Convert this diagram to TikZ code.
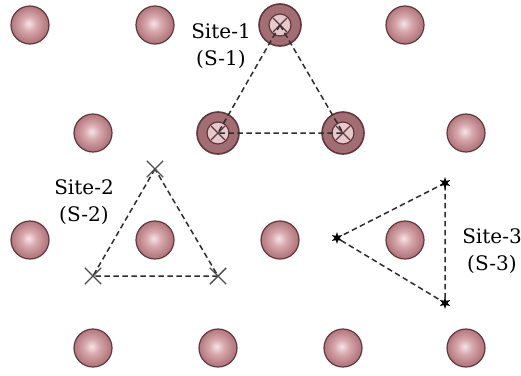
\documentclass[tikz,border=0pt]{standalone}
\usepackage{fontspec}
\setmainfont{DejaVu Serif}
\usetikzlibrary{shapes.misc, shapes.geometric}

\definecolor{atomhi}{RGB}{245,228,230}
\definecolor{atompink}{RGB}{215,168,173}
\definecolor{atomrim}{RGB}{180,122,128}
\definecolor{atomedge}{RGB}{95,55,60}
\definecolor{bondgray}{RGB}{45,45,45}

% soft pink ball, highlight a bit up-left
\pgfdeclareradialshading{atomball}{\pgfpoint{-2bp}{2bp}}{%
  color(0bp)=(atomhi); color(10bp)=(atompink); color(23bp)=(atomrim);
  color(25bp)=(atomrim); color(50bp)=(atomrim)}

\begin{document}
\begin{tikzpicture}[x=1pt, y=-1pt,
    atom/.style={circle, minimum size=38pt, inner sep=0pt,
                 draw=atomedge, line width=1.2pt, shading=atomball},
    siteatom/.style={circle, minimum size=42pt, inner sep=0pt,
                 draw=atomedge, line width=1.6pt, fill=atomrim!90!black,
                 path picture={
                   \draw[atomedge, line width=1.2pt, fill=atomhi!55!atompink]
                     (path picture bounding box.center) circle (11pt);
                   \draw[atomedge, line width=1.2pt]
                     (path picture bounding box.center) ++(-7pt,-7pt) -- ++(14pt,14pt);
                   \draw[atomedge, line width=1.2pt]
                     (path picture bounding box.center) ++(-7pt,7pt) -- ++(14pt,-14pt);
                 }},
    bond/.style={draw=bondgray, line width=1.5pt, dash pattern=on 5.5pt off 3.5pt},
    xmark/.style={cross out, draw=gray!60!black, line width=1.4pt,
                  minimum size=15pt, inner sep=0pt},
    smark/.style={star, star points=6, star point ratio=2.4, fill=black,
                  minimum size=12pt, inner sep=0pt},
    lbl/.style={align=center, font=\fontsize{20}{27}\selectfont}]

  \useasboundingbox (0,0) rectangle (521,375);

  % plain atoms of the lattice
  \foreach \x/\y/\n in {30/25/a1, 155/25/a2, 405/25/a4,
                        93/133/b1, 466/133/b4,
                        30/240/c1, 155/240/c2, 280/240/c3, 405/240/c4,
                        93/348/d1, 218/348/d2, 343/348/d3, 466/348/d4}
    \node[atom] (\n) at (\x,\y) {};

  % Site-1 : on top of atoms
  \node[siteatom] (a3) at (280,25) {};
  \node[siteatom] (b2) at (218,133) {};
  \node[siteatom] (b3) at (343,133) {};
  \draw[bond] (a3.center) -- (b2.center) -- (b3.center) -- cycle;

  % Site-2 : hollow sites round c2
  \coordinate (h1) at (155,169);
  \coordinate (h2) at (93,276);
  \coordinate (h3) at (218,276);
  \draw[bond] (h1) -- (h2) -- (h3) -- cycle;
  \foreach \h in {h1, h2, h3}
    \node[xmark] at (\h) {};

  % Site-3 : turned triangle round c4
  \coordinate (t1) at (445,183);
  \coordinate (t2) at (337,238);
  \coordinate (t3) at (445,303);
  \draw[bond] (t1) -- (t2) -- (t3) -- cycle;
  \foreach \t in {t1, t2, t3}
    \node[smark] at (\t) {};

  % labels
  \node[lbl] (l1) at (221,46) {Site-1\\(S-1)};
  \node[lbl] (l2) at (84,202) {Site-2\\(S-2)};
  \node[lbl] (l3) at (492,251) {Site-3\\(S-3)};
\end{tikzpicture}
\end{document}
